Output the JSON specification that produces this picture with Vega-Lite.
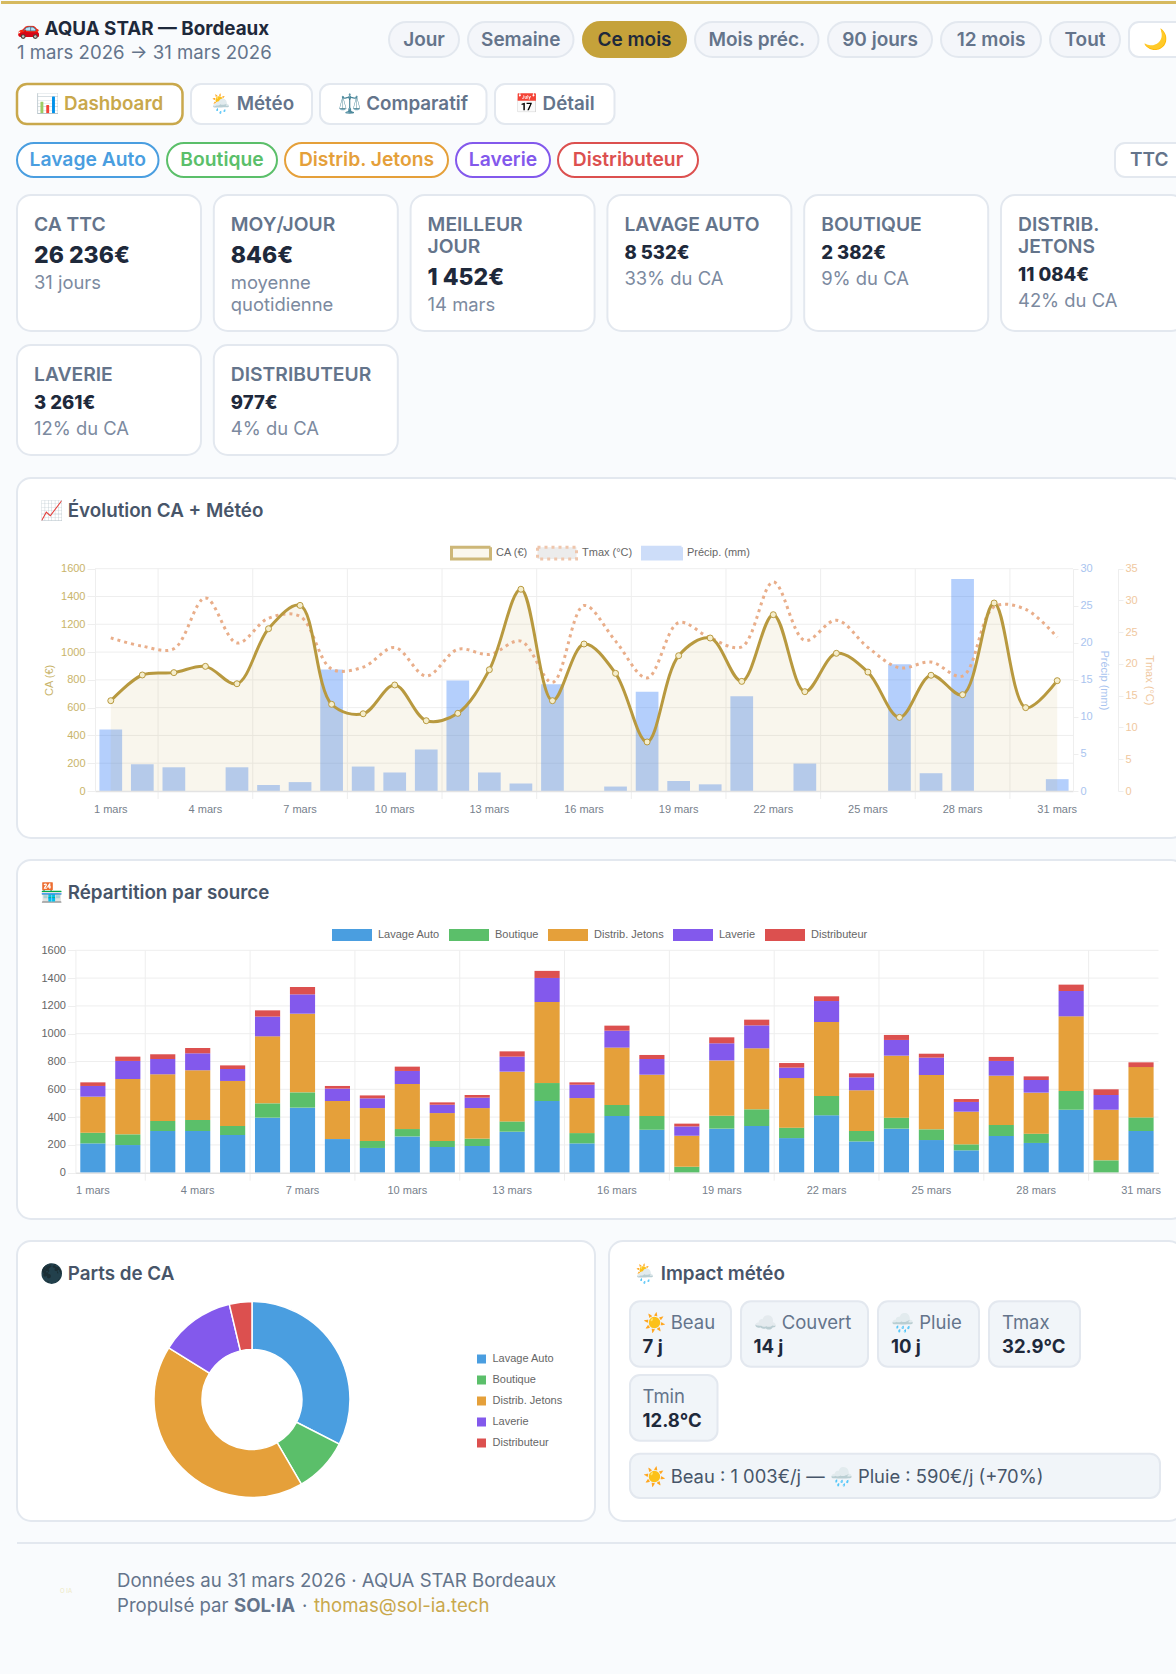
{
"$schema":"https://vega.github.io/schema/vega-lite/v6.json",
"background":"#f9fbfd","padding":0,"autosize":{"type":"pad"},
"config":{"font":"Inter","concat":{"spacing":0},"view":{"stroke":null},
"style":{
"carte":{"fill":"#ffffff","stroke":"#e3e8ef","strokeWidth":2,"cornerRadius":14},
"pill":{"fill":"#f4f6fa","stroke":"#e3e8ef","strokeWidth":2,"cornerRadius":17.5},
"pillOr":{"fill":"#c5a23a","stroke":"#c5a23a","strokeWidth":2,"cornerRadius":17.5},
"tab":{"fill":"#ffffff","stroke":"#e3e8ef","strokeWidth":2,"cornerRadius":10},
"tabOr":{"fill":"#ffffff","stroke":"#c9a84c","strokeWidth":2.5,"cornerRadius":10},
"srcB":{"fill":"#ffffff","stroke":"#4a9ee0","strokeWidth":2,"cornerRadius":17},
"srcV":{"fill":"#ffffff","stroke":"#5bbf6a","strokeWidth":2,"cornerRadius":17},
"srcO":{"fill":"#ffffff","stroke":"#e5a03a","strokeWidth":2,"cornerRadius":17},
"srcL":{"fill":"#ffffff","stroke":"#8359ec","strokeWidth":2,"cornerRadius":17},
"srcR":{"fill":"#ffffff","stroke":"#dc504f","strokeWidth":2,"cornerRadius":17}
}},
"datasets":{
"vide":[{}],
"jours":[
{"jour":1,"ca":650,"tmax":24.1,"precip":8.3},{"jour":2,"ca":835,"tmax":22.8,"precip":3.6},{"jour":3,"ca":852,"tmax":22.4,"precip":3.2},{"jour":4,"ca":897,"tmax":30.4,"precip":0},{"jour":5,"ca":772,"tmax":23.3,"precip":3.2},{"jour":6,"ca":1168,"tmax":27.2,"precip":0.8},{"jour":7,"ca":1336,"tmax":27.5,"precip":1.2},{"jour":8,"ca":624,"tmax":19.2,"precip":16.4},{"jour":9,"ca":556,"tmax":19.5,"precip":3.3},{"jour":10,"ca":763,"tmax":22.6,"precip":2.5},{"jour":11,"ca":506,"tmax":18.1,"precip":5.6},{"jour":12,"ca":559,"tmax":22.3,"precip":14.9},{"jour":13,"ca":873,"tmax":21.5,"precip":2.5},{"jour":14,"ca":1452,"tmax":23.6,"precip":1},{"jour":15,"ca":650,"tmax":17.1,"precip":14.4},{"jour":16,"ca":1058,"tmax":29.2,"precip":0},{"jour":17,"ca":847,"tmax":23.6,"precip":0.6},{"jour":18,"ca":353,"tmax":17.8,"precip":13.4},{"jour":19,"ca":974,"tmax":26.5,"precip":1.35},{"jour":20,"ca":1101,"tmax":24.1,"precip":0.9},{"jour":21,"ca":789,"tmax":22.7,"precip":12.8},{"jour":22,"ca":1269,"tmax":32.9,"precip":0},{"jour":23,"ca":715,"tmax":23.7,"precip":3.7},{"jour":24,"ca":991,"tmax":26.9,"precip":0},{"jour":25,"ca":856,"tmax":22.6,"precip":0},{"jour":26,"ca":530,"tmax":19.4,"precip":17.1},{"jour":27,"ca":833,"tmax":20.3,"precip":2.4},{"jour":28,"ca":693,"tmax":18.1,"precip":28.6},{"jour":29,"ca":1353,"tmax":29,"precip":0},{"jour":30,"ca":600,"tmax":28.6,"precip":0},{"jour":31,"ca":794,"tmax":24.2,"precip":1.6}],
"grille":[{"jour":2},{"jour":5},{"jour":8},{"jour":11},{"jour":14},{"jour":17},{"jour":20},{"jour":23},{"jour":26},{"jour":29}],
"graduations":[{"v":200},{"v":400},{"v":600},{"v":800},{"v":1000},{"v":1200},{"v":1400},{"v":1600}],
"sources":[
{"jour":1,"source":"Lavage Auto","ordre":1,"ca":211},{"jour":1,"source":"Boutique","ordre":2,"ca":77},{"jour":1,"source":"Distrib. Jetons","ordre":3,"ca":259},{"jour":1,"source":"Laverie","ordre":4,"ca":77},{"jour":1,"source":"Distributeur","ordre":5,"ca":26},
{"jour":2,"source":"Lavage Auto","ordre":1,"ca":199},{"jour":2,"source":"Boutique","ordre":2,"ca":77},{"jour":2,"source":"Distrib. Jetons","ordre":3,"ca":398},{"jour":2,"source":"Laverie","ordre":4,"ca":130},{"jour":2,"source":"Distributeur","ordre":5,"ca":31},
{"jour":3,"source":"Lavage Auto","ordre":1,"ca":300},{"jour":3,"source":"Boutique","ordre":2,"ca":72},{"jour":3,"source":"Distrib. Jetons","ordre":3,"ca":336},{"jour":3,"source":"Laverie","ordre":4,"ca":110},{"jour":3,"source":"Distributeur","ordre":5,"ca":34},
{"jour":4,"source":"Lavage Auto","ordre":1,"ca":300},{"jour":4,"source":"Boutique","ordre":2,"ca":79},{"jour":4,"source":"Distrib. Jetons","ordre":3,"ca":358},{"jour":4,"source":"Laverie","ordre":4,"ca":122},{"jour":4,"source":"Distributeur","ordre":5,"ca":38},
{"jour":5,"source":"Lavage Auto","ordre":1,"ca":271},{"jour":5,"source":"Boutique","ordre":2,"ca":65},{"jour":5,"source":"Distrib. Jetons","ordre":3,"ca":324},{"jour":5,"source":"Laverie","ordre":4,"ca":86},{"jour":5,"source":"Distributeur","ordre":5,"ca":26},
{"jour":6,"source":"Lavage Auto","ordre":1,"ca":396},{"jour":6,"source":"Boutique","ordre":2,"ca":103},{"jour":6,"source":"Distrib. Jetons","ordre":3,"ca":482},{"jour":6,"source":"Laverie","ordre":4,"ca":142},{"jour":6,"source":"Distributeur","ordre":5,"ca":45},
{"jour":7,"source":"Lavage Auto","ordre":1,"ca":468},{"jour":7,"source":"Boutique","ordre":2,"ca":110},{"jour":7,"source":"Distrib. Jetons","ordre":3,"ca":566},{"jour":7,"source":"Laverie","ordre":4,"ca":139},{"jour":7,"source":"Distributeur","ordre":5,"ca":53},
{"jour":8,"source":"Lavage Auto","ordre":1,"ca":242},{"jour":8,"source":"Distrib. Jetons","ordre":3,"ca":274},{"jour":8,"source":"Laverie","ordre":4,"ca":89},{"jour":8,"source":"Distributeur","ordre":5,"ca":19},
{"jour":9,"source":"Lavage Auto","ordre":1,"ca":178},{"jour":9,"source":"Boutique","ordre":2,"ca":50},{"jour":9,"source":"Distrib. Jetons","ordre":3,"ca":237},{"jour":9,"source":"Laverie","ordre":4,"ca":70},{"jour":9,"source":"Distributeur","ordre":5,"ca":21},
{"jour":10,"source":"Lavage Auto","ordre":1,"ca":261},{"jour":10,"source":"Boutique","ordre":2,"ca":53},{"jour":10,"source":"Distrib. Jetons","ordre":3,"ca":324},{"jour":10,"source":"Laverie","ordre":4,"ca":94},{"jour":10,"source":"Distributeur","ordre":5,"ca":31},
{"jour":11,"source":"Lavage Auto","ordre":1,"ca":185},{"jour":11,"source":"Boutique","ordre":2,"ca":43},{"jour":11,"source":"Distrib. Jetons","ordre":3,"ca":201},{"jour":11,"source":"Laverie","ordre":4,"ca":60},{"jour":11,"source":"Distributeur","ordre":5,"ca":17},
{"jour":12,"source":"Lavage Auto","ordre":1,"ca":192},{"jour":12,"source":"Boutique","ordre":2,"ca":53},{"jour":12,"source":"Distrib. Jetons","ordre":3,"ca":220},{"jour":12,"source":"Laverie","ordre":4,"ca":75},{"jour":12,"source":"Distributeur","ordre":5,"ca":19},
{"jour":13,"source":"Lavage Auto","ordre":1,"ca":295},{"jour":13,"source":"Boutique","ordre":2,"ca":74},{"jour":13,"source":"Distrib. Jetons","ordre":3,"ca":358},{"jour":13,"source":"Laverie","ordre":4,"ca":108},{"jour":13,"source":"Distributeur","ordre":5,"ca":38},
{"jour":14,"source":"Lavage Auto","ordre":1,"ca":516},{"jour":14,"source":"Boutique","ordre":2,"ca":129},{"jour":14,"source":"Distrib. Jetons","ordre":3,"ca":583},{"jour":14,"source":"Laverie","ordre":4,"ca":173},{"jour":14,"source":"Distributeur","ordre":5,"ca":51},
{"jour":15,"source":"Lavage Auto","ordre":1,"ca":211},{"jour":15,"source":"Boutique","ordre":2,"ca":74},{"jour":15,"source":"Distrib. Jetons","ordre":3,"ca":252},{"jour":15,"source":"Laverie","ordre":4,"ca":96},{"jour":15,"source":"Distributeur","ordre":5,"ca":17},
{"jour":16,"source":"Lavage Auto","ordre":1,"ca":408},{"jour":16,"source":"Boutique","ordre":2,"ca":79},{"jour":16,"source":"Distrib. Jetons","ordre":3,"ca":413},{"jour":16,"source":"Laverie","ordre":4,"ca":122},{"jour":16,"source":"Distributeur","ordre":5,"ca":36},
{"jour":17,"source":"Lavage Auto","ordre":1,"ca":309},{"jour":17,"source":"Boutique","ordre":2,"ca":99},{"jour":17,"source":"Distrib. Jetons","ordre":3,"ca":297},{"jour":17,"source":"Laverie","ordre":4,"ca":113},{"jour":17,"source":"Distributeur","ordre":5,"ca":29},
{"jour":18,"source":"Boutique","ordre":2,"ca":43},{"jour":18,"source":"Distrib. Jetons","ordre":3,"ca":223},{"jour":18,"source":"Laverie","ordre":4,"ca":67},{"jour":18,"source":"Distributeur","ordre":5,"ca":20},
{"jour":19,"source":"Lavage Auto","ordre":1,"ca":317},{"jour":19,"source":"Boutique","ordre":2,"ca":93},{"jour":19,"source":"Distrib. Jetons","ordre":3,"ca":398},{"jour":19,"source":"Laverie","ordre":4,"ca":123},{"jour":19,"source":"Distributeur","ordre":5,"ca":43},
{"jour":20,"source":"Lavage Auto","ordre":1,"ca":336},{"jour":20,"source":"Boutique","ordre":2,"ca":120},{"jour":20,"source":"Distrib. Jetons","ordre":3,"ca":439},{"jour":20,"source":"Laverie","ordre":4,"ca":165},{"jour":20,"source":"Distributeur","ordre":5,"ca":41},
{"jour":21,"source":"Lavage Auto","ordre":1,"ca":249},{"jour":21,"source":"Boutique","ordre":2,"ca":75},{"jour":21,"source":"Distrib. Jetons","ordre":3,"ca":357},{"jour":21,"source":"Laverie","ordre":4,"ca":75},{"jour":21,"source":"Distributeur","ordre":5,"ca":33},
{"jour":22,"source":"Lavage Auto","ordre":1,"ca":413},{"jour":22,"source":"Boutique","ordre":2,"ca":139},{"jour":22,"source":"Distrib. Jetons","ordre":3,"ca":532},{"jour":22,"source":"Laverie","ordre":4,"ca":151},{"jour":22,"source":"Distributeur","ordre":5,"ca":34},
{"jour":23,"source":"Lavage Auto","ordre":1,"ca":225},{"jour":23,"source":"Boutique","ordre":2,"ca":75},{"jour":23,"source":"Distrib. Jetons","ordre":3,"ca":293},{"jour":23,"source":"Laverie","ordre":4,"ca":93},{"jour":23,"source":"Distributeur","ordre":5,"ca":29},
{"jour":24,"source":"Lavage Auto","ordre":1,"ca":317},{"jour":24,"source":"Boutique","ordre":2,"ca":79},{"jour":24,"source":"Distrib. Jetons","ordre":3,"ca":446},{"jour":24,"source":"Laverie","ordre":4,"ca":113},{"jour":24,"source":"Distributeur","ordre":5,"ca":36},
{"jour":25,"source":"Lavage Auto","ordre":1,"ca":235},{"jour":25,"source":"Boutique","ordre":2,"ca":77},{"jour":25,"source":"Distrib. Jetons","ordre":3,"ca":391},{"jour":25,"source":"Laverie","ordre":4,"ca":125},{"jour":25,"source":"Distributeur","ordre":5,"ca":28},
{"jour":26,"source":"Lavage Auto","ordre":1,"ca":161},{"jour":26,"source":"Boutique","ordre":2,"ca":43},{"jour":26,"source":"Distrib. Jetons","ordre":3,"ca":235},{"jour":26,"source":"Laverie","ordre":4,"ca":70},{"jour":26,"source":"Distributeur","ordre":5,"ca":21},
{"jour":27,"source":"Lavage Auto","ordre":1,"ca":264},{"jour":27,"source":"Boutique","ordre":2,"ca":79},{"jour":27,"source":"Distrib. Jetons","ordre":3,"ca":355},{"jour":27,"source":"Laverie","ordre":4,"ca":106},{"jour":27,"source":"Distributeur","ordre":5,"ca":29},
{"jour":28,"source":"Lavage Auto","ordre":1,"ca":214},{"jour":28,"source":"Boutique","ordre":2,"ca":67},{"jour":28,"source":"Distrib. Jetons","ordre":3,"ca":295},{"jour":28,"source":"Laverie","ordre":4,"ca":91},{"jour":28,"source":"Distributeur","ordre":5,"ca":26},
{"jour":29,"source":"Lavage Auto","ordre":1,"ca":453},{"jour":29,"source":"Boutique","ordre":2,"ca":135},{"jour":29,"source":"Distrib. Jetons","ordre":3,"ca":537},{"jour":29,"source":"Laverie","ordre":4,"ca":182},{"jour":29,"source":"Distributeur","ordre":5,"ca":46},
{"jour":30,"source":"Boutique","ordre":2,"ca":89},{"jour":30,"source":"Distrib. Jetons","ordre":3,"ca":364},{"jour":30,"source":"Laverie","ordre":4,"ca":106},{"jour":30,"source":"Distributeur","ordre":5,"ca":41},
{"jour":31,"source":"Lavage Auto","ordre":1,"ca":300},{"jour":31,"source":"Boutique","ordre":2,"ca":98},{"jour":31,"source":"Distrib. Jetons","ordre":3,"ca":362},{"jour":31,"source":"Distributeur","ordre":5,"ca":34}],
"parts":[{"source":"Lavage Auto","ordre":1,"ca":8532},{"source":"Boutique","ordre":2,"ca":2382},{"source":"Distrib. Jetons","ordre":3,"ca":11084},{"source":"Laverie","ordre":4,"ca":3261},{"source":"Distributeur","ordre":5,"ca":977}],
"kpi":[
{"carte":1,"genre":"label","rang":0,"t":"CA TTC"},{"carte":1,"genre":"grand","rang":1,"t":"26 236€"},{"carte":1,"genre":"sousG","rang":2,"t":"31 jours"},
{"carte":2,"genre":"label","rang":0,"t":"MOY/JOUR"},{"carte":2,"genre":"grand","rang":1,"t":"846€"},{"carte":2,"genre":"sousG","rang":2,"t":"moyenne"},{"carte":2,"genre":"sousG","rang":3,"t":"quotidienne"},
{"carte":3,"genre":"label","rang":0,"t":"MEILLEUR"},{"carte":3,"genre":"label","rang":1,"t":"JOUR"},{"carte":3,"genre":"grand","rang":2,"t":"1 452€"},{"carte":3,"genre":"sousG","rang":3,"t":"14 mars"},
{"carte":4,"genre":"label","rang":0,"t":"LAVAGE AUTO"},{"carte":4,"genre":"petit","rang":1,"t":"8 532€"},{"carte":4,"genre":"sousP","rang":2,"t":"33% du CA"},
{"carte":5,"genre":"label","rang":0,"t":"BOUTIQUE"},{"carte":5,"genre":"petit","rang":1,"t":"2 382€"},{"carte":5,"genre":"sousP","rang":2,"t":"9% du CA"},
{"carte":6,"genre":"label","rang":0,"t":"DISTRIB."},{"carte":6,"genre":"label","rang":1,"t":"JETONS"},{"carte":6,"genre":"petit","rang":2,"t":"11 084€"},{"carte":6,"genre":"sousP","rang":3,"t":"42% du CA"},
{"carte":7,"genre":"label","rang":0,"t":"LAVERIE"},{"carte":7,"genre":"petit","rang":1,"t":"3 261€"},{"carte":7,"genre":"sousP","rang":2,"t":"12% du CA"},
{"carte":8,"genre":"label","rang":0,"t":"DISTRIBUTEUR"},{"carte":8,"genre":"petit","rang":1,"t":"977€"},{"carte":8,"genre":"sousP","rang":2,"t":"4% du CA"}]
},
"spacing":0,
"resolve":{"scale":{"color":"independent","fill":"independent","stroke":"independent","strokeDash":"independent"}},
"vconcat":[
{"width":1190,"height":3,"view":{"fill":"#d6b95f"},"data":{"name":"vide"},"mark":{"type":"rule","opacity":0},"encoding":{}},
{"spacing":0,
"resolve":{"scale":{"color":"independent","fill":"independent","stroke":"independent","strokeDash":"independent"}},
"hconcat":[
{"width":13.8,"height":1,"data":{"name":"vide"},"mark":{"type":"rule","opacity":0},"encoding":{}},
{"spacing":0,
"resolve":{"scale":{"color":"independent","fill":"independent","stroke":"independent","strokeDash":"independent"}},
"vconcat":[
{"width":1,"height":15,"data":{"name":"vide"},"mark":{"type":"rule","opacity":0},"encoding":{}},
{"bounds":"flush","spacing":9,"hconcat":[
{"width":363,"height":35,"layer":[
{"data":{"values":[{"rang":0,"t":"🚗 AQUA STAR — Bordeaux"}]},"mark":{"type":"text","align":"left","fontSize":18.8,"fontWeight":700,"color":"#1e293b"},"encoding":{"x":{"datum":0,"scale":{"domain":[0,1],"range":[0,363],"nice":false},"axis":null},"y":{"field":"rang","type":"ordinal","scale":{"type":"point","domain":[0,1],"range":[7,31],"padding":0},"axis":null},"text":{"field":"t"}}},
{"data":{"values":[{"rang":1,"t":"1 mars 2026 → 31 mars 2026"}]},"mark":{"type":"text","align":"left","fontSize":18.6,"color":"#64748b"},"encoding":{"x":{"datum":0,"scale":{"domain":[0,1],"range":[0,363],"nice":false},"axis":null},"y":{"field":"rang","type":"ordinal","scale":{"type":"point","domain":[0,1],"range":[7,31],"padding":0},"axis":null},"text":{"field":"t"}}}
]},
{"width":70,"height":35,"view":{"style":"pill"},"data":{"values":[{"t":"Jour"}]},"mark":{"type":"text","fontSize":19,"fontWeight":600,"color":"#64748b"},"encoding":{"text":{"field":"t"}}},
{"width":105.5,"height":35,"view":{"style":"pill"},"data":{"values":[{"t":"Semaine"}]},"mark":{"type":"text","fontSize":19,"fontWeight":600,"color":"#64748b"},"encoding":{"text":{"field":"t"}}},
{"width":103,"height":35,"view":{"style":"pillOr"},"data":{"values":[{"t":"Ce mois"}]},"mark":{"type":"text","fontSize":19,"fontWeight":600,"color":"#1e293b"},"encoding":{"text":{"field":"t"}}},
{"width":123.5,"height":35,"view":{"style":"pill"},"data":{"values":[{"t":"Mois préc."}]},"mark":{"type":"text","fontSize":19,"fontWeight":600,"color":"#64748b"},"encoding":{"text":{"field":"t"}}},
{"width":104,"height":35,"view":{"style":"pill"},"data":{"values":[{"t":"90 jours"}]},"mark":{"type":"text","fontSize":19,"fontWeight":600,"color":"#64748b"},"encoding":{"text":{"field":"t"}}},
{"width":100,"height":35,"view":{"style":"pill"},"data":{"values":[{"t":"12 mois"}]},"mark":{"type":"text","fontSize":19,"fontWeight":600,"color":"#64748b"},"encoding":{"text":{"field":"t"}}},
{"width":70,"height":35,"view":{"style":"pill"},"data":{"values":[{"t":"Tout"}]},"mark":{"type":"text","fontSize":19,"fontWeight":600,"color":"#64748b"},"encoding":{"text":{"field":"t"}}},
{"width":60,"height":35,"view":{"style":"tab"},"data":{"values":[{"t":"🌙"}]},"mark":{"type":"text","fontSize":20,"color":"#eab308","align":"left","dx":-16},"encoding":{"text":{"field":"t"}}}
]},
{"width":1,"height":18,"data":{"name":"vide"},"mark":{"type":"rule","opacity":0},"encoding":{}},
{"bounds":"flush","spacing":8,"hconcat":[
{"width":165.5,"height":40,"view":{"style":"tabOr"},"data":{"values":[{"t":"📊 Dashboard"}]},"mark":{"type":"text","fontSize":18.8,"fontWeight":600,"color":"#c9a84c"},"encoding":{"text":{"field":"t"}}},
{"width":121,"height":40,"view":{"style":"tab"},"data":{"values":[{"t":"🌦️ Météo"}]},"mark":{"type":"text","fontSize":18.8,"fontWeight":600,"color":"#64748b"},"encoding":{"text":{"field":"t"}}},
{"width":166.5,"height":40,"view":{"style":"tab"},"data":{"values":[{"t":"⚖️ Comparatif"}]},"mark":{"type":"text","fontSize":18.8,"fontWeight":600,"color":"#64748b"},"encoding":{"text":{"field":"t"}}},
{"width":119.5,"height":40,"view":{"style":"tab"},"data":{"values":[{"t":"📅 Détail"}]},"mark":{"type":"text","fontSize":18.8,"fontWeight":600,"color":"#64748b"},"encoding":{"text":{"field":"t"}}}
]},
{"width":1,"height":15,"data":{"name":"vide"},"mark":{"type":"rule","opacity":0},"encoding":{}},
{"bounds":"flush","spacing":8,"hconcat":[
{"width":141.5,"height":34,"view":{"style":"srcB"},"data":{"values":[{"t":"Lavage Auto"}]},"mark":{"type":"text","fontSize":19.3,"fontWeight":600,"color":"#4a9ee0"},"encoding":{"text":{"field":"t"}}},
{"width":110,"height":34,"view":{"style":"srcV"},"data":{"values":[{"t":"Boutique"}]},"mark":{"type":"text","fontSize":19.3,"fontWeight":600,"color":"#5bbf6a"},"encoding":{"text":{"field":"t"}}},
{"width":163,"height":34,"view":{"style":"srcO"},"data":{"values":[{"t":"Distrib. Jetons"}]},"mark":{"type":"text","fontSize":19.3,"fontWeight":600,"color":"#e5a03a"},"encoding":{"text":{"field":"t"}}},
{"width":94,"height":34,"view":{"style":"srcL"},"data":{"values":[{"t":"Laverie"}]},"mark":{"type":"text","fontSize":19.3,"fontWeight":600,"color":"#8359ec"},"encoding":{"text":{"field":"t"}}},
{"width":140,"height":34,"view":{"style":"srcR"},"data":{"values":[{"t":"Distributeur"}]},"mark":{"type":"text","fontSize":19.3,"fontWeight":600,"color":"#dc504f"},"encoding":{"text":{"field":"t"}}},
{"width":401,"height":34,"data":{"name":"vide"},"mark":{"type":"rule","opacity":0},"encoding":{}},
{"width":74,"height":34,"view":{"style":"tab"},"data":{"values":[{"t":"TTC"}]},"mark":{"type":"text","fontSize":19,"fontWeight":600,"color":"#64748b","align":"left","dx":-22},"encoding":{"text":{"field":"t"}}}
]},
{"width":1,"height":15,"data":{"name":"vide"},"mark":{"type":"rule","opacity":0},"encoding":{}},
{"data":{"name":"kpi"},"transform":[{"filter":"datum.carte<=6"}],"facet":{"field":"carte","type":"ordinal","header":{"title":null,"labelExpr":"''","labelFontSize":0,"labelPadding":0,"titlePadding":0}},"columns":6,"spacing":12.8,"bounds":"flush",
"spec":{"width":184,"height":136,
"encoding":{"x":{"datum":0,"scale":{"domain":[0,1],"range":[17,184],"nice":false},"axis":null},"y":{"field":"rang","type":"ordinal","scale":{"type":"point","domain":[0,1,2,3],"range":[30,96],"padding":0},"axis":null},"text":{"field":"t"}},
"layer":[
{"transform":[{"filter":"datum.genre=='label' && datum.rang==0"}],"mark":{"type":"rect","fill":"#ffffff","stroke":"#e3e8ef","strokeWidth":2,"cornerRadius":14},"encoding":{"x":{"value":0},"x2":{"value":184},"y":{"value":0},"y2":{"value":136},"text":null}},
{"transform":[{"filter":"datum.genre=='label'"}],"mark":{"type":"text","align":"left","fontSize":19.3,"fontWeight":600,"color":"#64748b"}},
{"transform":[{"filter":"datum.genre=='grand'"}],"mark":{"type":"text","align":"left","fontSize":23,"fontWeight":800,"color":"#1e293b","dy":8.5}},
{"transform":[{"filter":"datum.genre=='petit'"}],"mark":{"type":"text","align":"left","fontSize":18.5,"fontWeight":800,"color":"#1e293b","dy":6}},
{"transform":[{"filter":"datum.genre=='sousG'"}],"mark":{"type":"text","align":"left","fontSize":18.4,"color":"#7c8aa0","dy":14}},
{"transform":[{"filter":"datum.genre=='sousP'"}],"mark":{"type":"text","align":"left","fontSize":18.4,"color":"#7c8aa0","dy":10}}
]}},
{"width":1,"height":11,"data":{"name":"vide"},"mark":{"type":"rule","opacity":0},"encoding":{}},
{"data":{"name":"kpi"},"transform":[{"filter":"datum.carte>6"}],"facet":{"field":"carte","type":"ordinal","header":{"title":null,"labelExpr":"''","labelFontSize":0,"labelPadding":0,"titlePadding":0}},"columns":6,"spacing":12.8,"bounds":"flush",
"spec":{"width":184,"height":110,
"encoding":{"x":{"datum":0,"scale":{"domain":[0,1],"range":[17,184],"nice":false},"axis":null},"y":{"field":"rang","type":"ordinal","scale":{"type":"point","domain":[0,1,2,3],"range":[30,96],"padding":0},"axis":null},"text":{"field":"t"}},
"layer":[
{"transform":[{"filter":"datum.genre=='label' && datum.rang==0"}],"mark":{"type":"rect","fill":"#ffffff","stroke":"#e3e8ef","strokeWidth":2,"cornerRadius":14},"encoding":{"x":{"value":0},"x2":{"value":184},"y":{"value":0},"y2":{"value":110},"text":null}},
{"transform":[{"filter":"datum.genre=='label'"}],"mark":{"type":"text","align":"left","fontSize":19.3,"fontWeight":600,"color":"#64748b"}},
{"transform":[{"filter":"datum.genre=='petit'"}],"mark":{"type":"text","align":"left","fontSize":18.5,"fontWeight":800,"color":"#1e293b","dy":6}},
{"transform":[{"filter":"datum.genre=='sousP'"}],"mark":{"type":"text","align":"left","fontSize":18.4,"color":"#7c8aa0","dy":10}}
]}},
{"width":1,"height":20,"data":{"name":"vide"},"mark":{"type":"rule","opacity":0},"encoding":{}},
{"width":1168,"height":360,
"title":{"text":"📈 Évolution CA + Météo","anchor":"start","frame":"group","dx":23,"offset":-44,"fontSize":18.8,"fontWeight":600,"color":"#475569"},
"encoding":{"x":{"field":"jour","type":"ordinal","scale":{"type":"band","paddingInner":0,"paddingOuter":0,"range":[78,1056]},
"axis":{"title":null,"offset":-47,"zindex":1,"values":[1,4,7,10,13,16,19,22,25,28,31],"labelExpr":"datum.label + ' mars'","labelAngle":0,"labelFont":"Liberation Sans","labelFontSize":11,"labelColor":"#777f8c","labelPadding":12,"ticks":false,"domainColor":"#e3e3e3","domainWidth":1.5,"grid":false}}},
"layer":[
{"data":{"name":"vide"},"mark":{"type":"rect","fill":"#ffffff","stroke":"#e3e8ef","strokeWidth":2,"cornerRadius":14},"encoding":{"x":{"value":0},"x2":{"value":1168},"y":{"value":0},"y2":{"value":360}}},
{"data":{"name":"graduations"},"mark":{"type":"rule","color":"#eeeeee","strokeWidth":1},"encoding":{"x":{"value":78},"x2":{"value":1056},"y":{"field":"v","type":"quantitative","scale":{"domain":[0,1600],"range":[313,90.7]},"axis":null}}},
{"data":{"name":"grille"},"mark":{"type":"rule","color":"#eeeeee","strokeWidth":1},"encoding":{"x":{"field":"jour","type":"ordinal","bandPosition":1,"axis":{"title":null,"offset":-47,"zindex":1,"values":[1,4,7,10,13,16,19,22,25,28,31],"labelExpr":"datum.label + ' mars'","labelAngle":0,"labelFont":"Liberation Sans","labelFontSize":11,"labelColor":"#777f8c","labelPadding":12,"ticks":false,"domainColor":"#e3e3e3","domainWidth":1.5,"grid":false}},"y":{"value":90.7},"y2":{"value":321}}},
{"data":{"name":"jours"},"mark":{"type":"bar","color":"#3b82f6","opacity":0.38,"width":{"band":0.72}},"encoding":{"y":{"field":"precip","type":"quantitative","scale":{"domain":[0,30],"range":[313,90.7]},"axis":{"orient":"right","offset":-112,"zindex":1,"title":"Précip (mm)","titleAngle":90,"titleFont":"Liberation Sans","titleFontSize":11,"titleFontWeight":400,"titleColor":"#a9c4ef","titlePadding":6,"values":[0,5,10,15,20,25,30],"labelFont":"Liberation Sans","labelFontSize":11,"labelColor":"#a9c4ef","tickColor":"#eeeeee","domainColor":"#eeeeee","grid":false}}}},
{"data":{"name":"jours"},"mark":{"type":"area","color":"#c9a84c","opacity":0.1,"interpolate":"catmull-rom","tension":0.5},"encoding":{"y":{"field":"ca","type":"quantitative","scale":{"domain":[0,1600],"range":[313,90.7]},"axis":{"offset":-78,"zindex":1,"format":"d","title":"CA (€)","titleFont":"Liberation Sans","titleFontSize":11,"titleFontWeight":400,"titleColor":"#c9b46a","titlePadding":6,"values":[0,200,400,600,800,1000,1200,1400,1600],"labelFont":"Liberation Sans","labelFontSize":11,"labelColor":"#c9b46a","tickColor":"#eeeeee","tickSize":8,"domainColor":"#eeeeee","grid":false}}}},
{"data":{"name":"jours"},"mark":{"type":"line","color":"#e9ae8a","strokeWidth":3,"strokeDash":[3,4],"interpolate":"catmull-rom","tension":0.5},"encoding":{"y":{"field":"tmax","type":"quantitative","scale":{"domain":[0,35],"range":[313,90.7]},"axis":{"orient":"right","offset":-67,"zindex":1,"title":"Tmax (°C)","titleAngle":90,"titleFont":"Liberation Sans","titleFontSize":11,"titleFontWeight":400,"titleColor":"#f0c8a0","titlePadding":6,"values":[0,5,10,15,20,25,30,35],"labelFont":"Liberation Sans","labelFontSize":11,"labelColor":"#f0c8a0","tickColor":"#eeeeee","domainColor":"#eeeeee","grid":false}}}},
{"data":{"name":"jours"},"mark":{"type":"line","color":"#b8993f","strokeWidth":3,"interpolate":"catmull-rom","tension":0.5},"encoding":{"y":{"field":"ca","type":"quantitative","scale":{"domain":[0,1600],"range":[313,90.7]},"axis":null}}},
{"data":{"name":"jours"},"mark":{"type":"point","filled":true,"fill":"#f5eecd","stroke":"#b8993f","strokeWidth":1,"opacity":1,"size":36},"encoding":{"y":{"field":"ca","type":"quantitative","scale":{"domain":[0,1600],"range":[313,90.7]},"axis":null}}},
{"data":{"values":[{"serie":"CA (€)"},{"serie":"Tmax (°C)"},{"serie":"Précip. (mm)"}]},"transform":[{"filter":"false"}],"mark":{"type":"point","filled":true},"encoding":{
"fill":{"field":"serie","type":"nominal","scale":{"domain":["CA (€)","Tmax (°C)","Précip. (mm)"],"range":["#f8f4e6","#e5e5e5","#b9d0f7"]},
"legend":{"title":null,"orient":"none","legendX":433,"legendY":54,"direction":"horizontal","columns":3,"columnPadding":3,"symbolType":"M-1,-0.3H1V0.3H-1Z","symbolSize":1521,"symbolStrokeWidth":3,"labelFont":"Liberation Sans","labelFontSize":11,"labelColor":"#666666","labelOffset":4}},
"stroke":{"field":"serie","type":"nominal","scale":{"domain":["CA (€)","Tmax (°C)","Précip. (mm)"],"range":["#b8993f","#e9ae8a","#b9d0f7"]}},
"strokeDash":{"field":"serie","type":"nominal","scale":{"domain":["CA (€)","Tmax (°C)","Précip. (mm)"],"range":[[1,0],[3,4],[1,0]]}}}}
],"resolve":{"scale":{"y":"independent"},"axis":{"y":"independent"}}},
{"width":1,"height":19,"data":{"name":"vide"},"mark":{"type":"rule","opacity":0},"encoding":{}},
{"width":1168,"height":359,
"title":{"text":"🏪 Répartition par source","anchor":"start","frame":"group","dx":23,"offset":-44,"fontSize":18.8,"fontWeight":600,"color":"#475569"},
"encoding":{"x":{"field":"jour","type":"ordinal","scale":{"type":"band","paddingInner":0,"paddingOuter":0,"range":[58.4,1141.5]},
"axis":{"title":null,"offset":-46.3,"zindex":1,"values":[1,4,7,10,13,16,19,22,25,28,31],"labelExpr":"datum.label + ' mars'","labelAngle":0,"labelFont":"Liberation Sans","labelFontSize":11,"labelColor":"#777f8c","labelPadding":12,"ticks":false,"domainColor":"#e3e3e3","domainWidth":1.5,"grid":false}}},
"layer":[
{"data":{"name":"vide"},"mark":{"type":"rect","fill":"#ffffff","stroke":"#e3e8ef","strokeWidth":2,"cornerRadius":14},"encoding":{"x":{"value":0},"x2":{"value":1168},"y":{"value":0},"y2":{"value":359}}},
{"data":{"name":"graduations"},"mark":{"type":"rule","color":"#eeeeee","strokeWidth":1},"encoding":{"x":{"value":58.4},"x2":{"value":1141.5},"y":{"field":"v","type":"quantitative","scale":{"domain":[0,1600],"range":[312.7,90.3]},"axis":null}}},
{"data":{"name":"grille"},"mark":{"type":"rule","color":"#eeeeee","strokeWidth":1},"encoding":{"x":{"field":"jour","type":"ordinal","bandPosition":1,"axis":{"title":null,"offset":-46.3,"zindex":1,"values":[1,4,7,10,13,16,19,22,25,28,31],"labelExpr":"datum.label + ' mars'","labelAngle":0,"labelFont":"Liberation Sans","labelFontSize":11,"labelColor":"#777f8c","labelPadding":12,"ticks":false,"domainColor":"#e3e3e3","domainWidth":1.5,"grid":false}},"y":{"value":90.3},"y2":{"value":320.7}}},
{"data":{"name":"sources"},"mark":{"type":"bar","width":{"band":0.72}},"encoding":{
"y":{"field":"ca","type":"quantitative","aggregate":"sum","scale":{"domain":[0,1600],"range":[312.7,90.3]},"axis":{"offset":-58.4,"zindex":1,"format":"d","title":null,"values":[0,200,400,600,800,1000,1200,1400,1600],"labelFont":"Liberation Sans","labelFontSize":11,"labelColor":"#666666","tickColor":"#eeeeee","tickSize":8,"domainColor":"#eeeeee","grid":false}},
"color":{"field":"source","type":"nominal","scale":{"domain":["Lavage Auto","Boutique","Distrib. Jetons","Laverie","Distributeur"],"range":["#4a9ee0","#5bbf6a","#e5a03a","#8359ec","#dc504f"]},
"legend":{"title":null,"orient":"none","legendX":314,"legendY":54,"direction":"horizontal","columns":5,"columnPadding":8,"symbolType":"M-1,-0.3H1V0.3H-1Z","symbolSize":1600,"labelFont":"Liberation Sans","labelFontSize":11,"labelColor":"#666666","labelOffset":5}},
"order":{"field":"ordre"}}}
],"resolve":{"scale":{"y":"independent"},"axis":{"y":"independent"}}},
{"width":1,"height":19,"data":{"name":"vide"},"mark":{"type":"rule","opacity":0},"encoding":{}},
{"bounds":"flush","spacing":14,
"resolve":{"scale":{"color":"independent"}},
"hconcat":[
{"width":578,"height":280,"view":{"style":"carte"},
"title":{"text":"🌑 Parts de CA","anchor":"start","frame":"group","dx":23,"offset":-43,"fontSize":18.8,"fontWeight":600,"color":"#475569"},
"data":{"name":"parts"},"mark":{"type":"arc","outerRadius":98,"innerRadius":50,"stroke":"#ffffff","strokeWidth":1.5},
"encoding":{"theta":{"field":"ca","type":"quantitative","stack":true},"order":{"field":"ordre"},
"x":{"datum":235,"type":"quantitative","scale":{"domain":[0,578],"range":[0,578],"nice":false},"axis":null},
"y":{"datum":158.5,"type":"quantitative","scale":{"domain":[0,280],"range":[0,280],"nice":false},"axis":null},
"color":{"field":"source","type":"nominal","sort":null,"scale":{"domain":["Lavage Auto","Boutique","Distrib. Jetons","Laverie","Distributeur"],"range":["#4a9ee0","#5bbf6a","#e5a03a","#8359ec","#dc504f"]},
"legend":{"title":null,"orient":"none","legendX":458.5,"legendY":112,"symbolType":"square","symbolSize":110,"rowPadding":3,"labelFont":"Liberation Sans","labelFontSize":11,"labelColor":"#666666","labelOffset":5}}}},
{"width":574,"height":280,
"title":{"text":"🌦️ Impact météo","anchor":"start","frame":"group","dx":24,"offset":-44,"fontSize":18.8,"fontWeight":600,"color":"#475569"},
"layer":[
{"data":{"name":"vide"},"mark":{"type":"rect","fill":"#ffffff","stroke":"#e3e8ef","strokeWidth":2,"cornerRadius":14},"encoding":{"x":{"value":0},"x2":{"value":574},"y":{"value":0},"y2":{"value":280}}},
{"data":{"name":"vide"},"mark":{"type":"rect","fill":"#f1f5f9","stroke":"#e3e8ef","strokeWidth":2,"cornerRadius":10},"encoding":{"x":{"datum":21,"scale":{"domain":[0,574],"range":[0,574],"nice":false},"axis":null},"x2":{"datum":122},"y":{"datum":60.3,"scale":{"domain":[0,280],"range":[0,280],"nice":false},"axis":null},"y2":{"datum":125.7}}},
{"data":{"name":"vide"},"mark":{"type":"rect","fill":"#f1f5f9","stroke":"#e3e8ef","strokeWidth":2,"cornerRadius":10},"encoding":{"x":{"datum":132},"x2":{"datum":259},"y":{"datum":60.3},"y2":{"datum":125.7}}},
{"data":{"name":"vide"},"mark":{"type":"rect","fill":"#f1f5f9","stroke":"#e3e8ef","strokeWidth":2,"cornerRadius":10},"encoding":{"x":{"datum":269},"x2":{"datum":370},"y":{"datum":60.3},"y2":{"datum":125.7}}},
{"data":{"name":"vide"},"mark":{"type":"rect","fill":"#f1f5f9","stroke":"#e3e8ef","strokeWidth":2,"cornerRadius":10},"encoding":{"x":{"datum":380},"x2":{"datum":471},"y":{"datum":60.3},"y2":{"datum":125.7}}},
{"data":{"name":"vide"},"mark":{"type":"rect","fill":"#f1f5f9","stroke":"#e3e8ef","strokeWidth":2,"cornerRadius":10},"encoding":{"x":{"datum":21},"x2":{"datum":108.5},"y":{"datum":134},"y2":{"datum":199.7}}},
{"data":{"name":"vide"},"mark":{"type":"rect","fill":"#f1f5f9","stroke":"#e3e8ef","strokeWidth":2,"cornerRadius":10},"encoding":{"x":{"datum":21},"x2":{"datum":551},"y":{"datum":212.7},"y2":{"datum":257}}},
{"data":{"values":[{"t":"☀️ Beau"}]},"mark":{"type":"text","align":"left","fontSize":18.5,"color":"#64748b"},"encoding":{"x":{"datum":33.5},"y":{"datum":81.7},"text":{"field":"t"}}},
{"data":{"values":[{"t":"☁️ Couvert"}]},"mark":{"type":"text","align":"left","fontSize":18.5,"color":"#64748b"},"encoding":{"x":{"datum":144.5},"y":{"datum":81.7},"text":{"field":"t"}}},
{"data":{"values":[{"t":"🌧️ Pluie"}]},"mark":{"type":"text","align":"left","fontSize":18.5,"color":"#64748b"},"encoding":{"x":{"datum":282},"y":{"datum":81.7},"text":{"field":"t"}}},
{"data":{"values":[{"t":"Tmax"}]},"mark":{"type":"text","align":"left","fontSize":18.5,"color":"#64748b"},"encoding":{"x":{"datum":393},"y":{"datum":81.7},"text":{"field":"t"}}},
{"data":{"values":[{"t":"Tmin"}]},"mark":{"type":"text","align":"left","fontSize":18.5,"color":"#64748b"},"encoding":{"x":{"datum":33.5},"y":{"datum":155.7},"text":{"field":"t"}}},
{"data":{"values":[{"t":"7 j"}]},"mark":{"type":"text","align":"left","fontSize":18.5,"fontWeight":700,"color":"#1e293b"},"encoding":{"x":{"datum":33.5},"y":{"datum":105.7},"text":{"field":"t"}}},
{"data":{"values":[{"t":"14 j"}]},"mark":{"type":"text","align":"left","fontSize":18.5,"fontWeight":700,"color":"#1e293b"},"encoding":{"x":{"datum":144.5},"y":{"datum":105.7},"text":{"field":"t"}}},
{"data":{"values":[{"t":"10 j"}]},"mark":{"type":"text","align":"left","fontSize":18.5,"fontWeight":700,"color":"#1e293b"},"encoding":{"x":{"datum":282},"y":{"datum":105.7},"text":{"field":"t"}}},
{"data":{"values":[{"t":"32.9°C"}]},"mark":{"type":"text","align":"left","fontSize":18.5,"fontWeight":700,"color":"#1e293b"},"encoding":{"x":{"datum":393},"y":{"datum":105.7},"text":{"field":"t"}}},
{"data":{"values":[{"t":"12.8°C"}]},"mark":{"type":"text","align":"left","fontSize":18.5,"fontWeight":700,"color":"#1e293b"},"encoding":{"x":{"datum":33.5},"y":{"datum":179.7},"text":{"field":"t"}}},
{"data":{"values":[{"t":"☀️ Beau : 1 003€/j — 🌧️ Pluie : 590€/j (+70%)"}]},"mark":{"type":"text","align":"left","fontSize":18.4,"color":"#475569"},"encoding":{"x":{"datum":33.5},"y":{"datum":235.7},"text":{"field":"t"}}}
]}
]},
{"width":1,"height":18,"data":{"name":"vide"},"mark":{"type":"rule","opacity":0},"encoding":{}},
{"width":1170,"height":2,"view":{"fill":"#e3e8ef"},"data":{"name":"vide"},"mark":{"type":"rule","opacity":0},"encoding":{}},
{"width":800,"height":145,
"layer":[
{"data":{"values":[{"t":"O IA"}]},"mark":{"type":"text","align":"left","fontSize":6,"color":"#eee9c4"},"encoding":{"x":{"datum":43,"scale":{"domain":[0,800],"range":[0,800],"nice":false},"axis":null},"y":{"datum":47,"scale":{"domain":[0,145],"range":[0,145],"nice":false},"axis":null},"text":{"field":"t"}}},
{"data":{"values":[{"t":"Données au 31 mars 2026 · AQUA STAR Bordeaux"}]},"mark":{"type":"text","align":"left","fontSize":18.6,"color":"#64748b"},"encoding":{"x":{"datum":100},"y":{"datum":37},"text":{"field":"t"}}},
{"data":{"values":[{"t":"Propulsé par"}]},"mark":{"type":"text","align":"left","fontSize":18.6,"color":"#64748b"},"encoding":{"x":{"datum":100},"y":{"datum":62},"text":{"field":"t"}}},
{"data":{"values":[{"t":"SOL·IA"}]},"mark":{"type":"text","align":"left","fontSize":18.6,"fontWeight":700,"color":"#64748b"},"encoding":{"x":{"datum":217},"y":{"datum":62},"text":{"field":"t"}}},
{"data":{"values":[{"t":"·"}]},"mark":{"type":"text","align":"left","fontSize":18.6,"color":"#64748b"},"encoding":{"x":{"datum":285},"y":{"datum":62},"text":{"field":"t"}}},
{"data":{"values":[{"t":"thomas@sol-ia.tech"}]},"mark":{"type":"text","align":"left","fontSize":18.6,"color":"#c9a84c"},"encoding":{"x":{"datum":297},"y":{"datum":62},"text":{"field":"t"}}}
]}
]}
]}
]}
